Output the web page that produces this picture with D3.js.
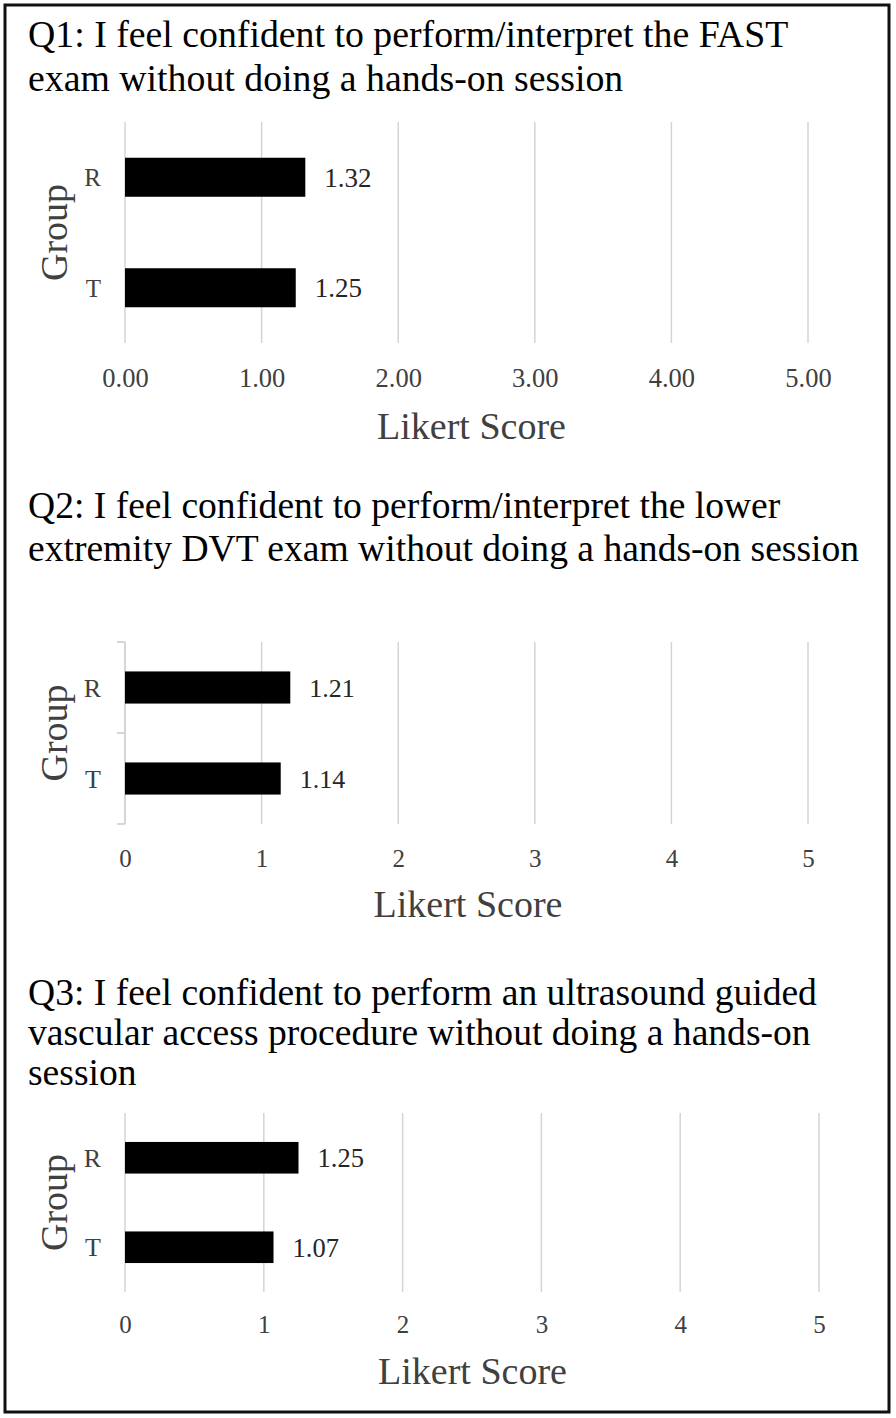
<!DOCTYPE html>
<html>
<head>
<meta charset="utf-8">
<script src="https://cdn.jsdelivr.net/npm/d3@7"></script>
<style>
  html, body { margin: 0; padding: 0; background: #fff; }
  svg { display: block; }
  text { font-family: "Liberation Serif", "Times New Roman", serif; }
</style>
</head>
<body>
<script>
// ---- data ----
const groups = ["R", "T"];
const q1Title = ["Q1: I feel confident to perform/interpret the FAST",
                 "exam without doing a hands-on session"];
const q1Values = [1.32, 1.25];
const q2Title = ["Q2: I feel confident to perform/interpret the lower",
                 "extremity DVT exam without doing a hands-on session"];
const q2Values = [1.21, 1.14];
const q3Title = ["Q3: I feel confident to perform an ultrasound guided",
                 "vascular access procedure without doing a hands-on",
                 "session"];
const q3Values = [1.25, 1.07];
const xTicks = [0, 1, 2, 3, 4, 5];
const q1TickFormat = ".2f";
const q23TickFormat = "d";
const xAxisTitle = "Likert Score";
const yAxisTitle = "Group";

// ---- layout ----
const W = 896, H = 1418;
const svg = d3.select("body").append("svg").attr("width", W).attr("height", H);
svg.append("rect").attr("width", W).attr("height", H).attr("fill", "#fff");
svg.append("rect").attr("x", 5).attr("y", 5).attr("width", 884).attr("height", 1407)
  .attr("fill", "none").attr("stroke", "#111").attr("stroke-width", 3);

const panels = [
  { title: q1Title, values: q1Values, fmt: q1TickFormat, titleY: [47, 91], titleSize: 37.8,
    top: 122, bottom: 343, x0: 125, x1: 808, tickY: 387, tickSize: 26.5,
    axisTitleY: 439, axisTitleDx: 5, axisLine: false, catSize: 25, valSize: 27 },
  { title: q2Title, values: q2Values, fmt: q23TickFormat, titleY: [518, 561], titleSize: 37.6,
    top: 642, bottom: 824, x0: 125, x1: 808, tickY: 867, tickSize: 25,
    axisTitleY: 917, axisTitleDx: 1.5, axisLine: true, catSize: 26, valSize: 26 },
  { title: q3Title, values: q3Values, fmt: q23TickFormat, titleY: [1005, 1045, 1085], titleSize: 37.6,
    top: 1113, bottom: 1292, x0: 125, x1: 819, tickY: 1333, tickSize: 25,
    axisTitleY: 1384, axisTitleDx: 0.5, axisLine: false, catSize: 26, valSize: 26.5 }
];

panels.forEach(p => {
  const g = svg.append("g");
  const x = d3.scaleLinear().domain([0, 5]).range([p.x0, p.x1]);
  const y = d3.scaleBand().domain(groups).range([p.top, p.bottom])
    .paddingInner(0.647).paddingOuter(0.3235);

  // title
  g.selectAll("text.title").data(p.title).join("text")
    .attr("class", "title")
    .attr("x", 28).attr("y", (d, i) => p.titleY[i])
    .attr("font-size", p.titleSize).attr("fill", "#000")
    .text(d => d);

  // gridlines
  g.selectAll("line.grid").data(xTicks.filter(t => !(p.axisLine && t === 0))).join("line")
    .attr("class", "grid")
    .attr("x1", d => x(d)).attr("x2", d => x(d))
    .attr("y1", p.top).attr("y2", p.bottom)
    .attr("stroke", "#d4d4d4").attr("stroke-width", 1.5);

  // y axis line with ticks (Q2 only)
  if (p.axisLine) {
    const yAxis = d3.axisLeft(y).tickSize(0).tickFormat("");
    const ax = g.append("g").attr("transform", `translate(${p.x0},0)`).call(yAxis);
    ax.select(".domain").remove();
    ax.append("line").attr("x1", 0).attr("x2", 0).attr("y1", p.top).attr("y2", p.bottom)
      .attr("stroke", "#c8c8c8").attr("stroke-width", 1.5);
    const boundaries = [p.top, (p.top + p.bottom) / 2, p.bottom];
    ax.selectAll("line.btick").data(boundaries).join("line").attr("class", "btick")
      .attr("x1", -8).attr("x2", 0).attr("y1", d => d).attr("y2", d => d)
      .attr("stroke", "#c8c8c8").attr("stroke-width", 1.5);
  }

  // x axis tick labels
  const xAxis = d3.axisBottom(x).tickValues(xTicks).tickSize(0).tickFormat(d3.format(p.fmt));
  const xa = g.append("g").attr("transform", `translate(0,${p.tickY})`).call(xAxis);
  xa.select(".domain").remove();
  xa.selectAll("text").attr("y", 0).attr("dy", 0)
    .attr("font-size", p.tickSize).attr("fill", "#404040")
    .attr("font-family", "Liberation Serif, Times New Roman, serif");

  // bars
  g.selectAll("rect.bar").data(groups).join("rect")
    .attr("class", "bar")
    .attr("x", x(0)).attr("y", d => y(d))
    .attr("width", (d, i) => x(p.values[i]) - x(0))
    .attr("height", y.bandwidth())
    .attr("fill", "#000");

  // value labels
  g.selectAll("text.val").data(groups).join("text")
    .attr("class", "val")
    .attr("x", (d, i) => x(p.values[i]) + 19)
    .attr("y", d => y(d) + y.bandwidth() / 2)
    .attr("dy", "0.35em")
    .attr("font-size", p.valSize).attr("fill", "#262626")
    .text((d, i) => p.values[i].toFixed(2));

  // category labels
  g.selectAll("text.cat").data(groups).join("text")
    .attr("class", "cat")
    .attr("x", 101)
    .attr("y", d => y(d) + y.bandwidth() / 2)
    .attr("dy", "0.35em")
    .attr("text-anchor", "end")
    .attr("font-size", p.catSize).attr("fill", "#404040")
    .text(d => d);

  // axis titles
  g.append("text")
    .attr("x", (p.x0 + p.x1) / 2 + p.axisTitleDx).attr("y", p.axisTitleY)
    .attr("text-anchor", "middle").attr("font-size", 38).attr("fill", "#404040")
    .text(xAxisTitle);
  g.append("text")
    .attr("transform", `translate(67,${(p.top + p.bottom) / 2}) rotate(-90)`)
    .attr("text-anchor", "middle").attr("font-size", 38).attr("fill", "#404040")
    .text(yAxisTitle);
});
</script>
</body>
</html>
